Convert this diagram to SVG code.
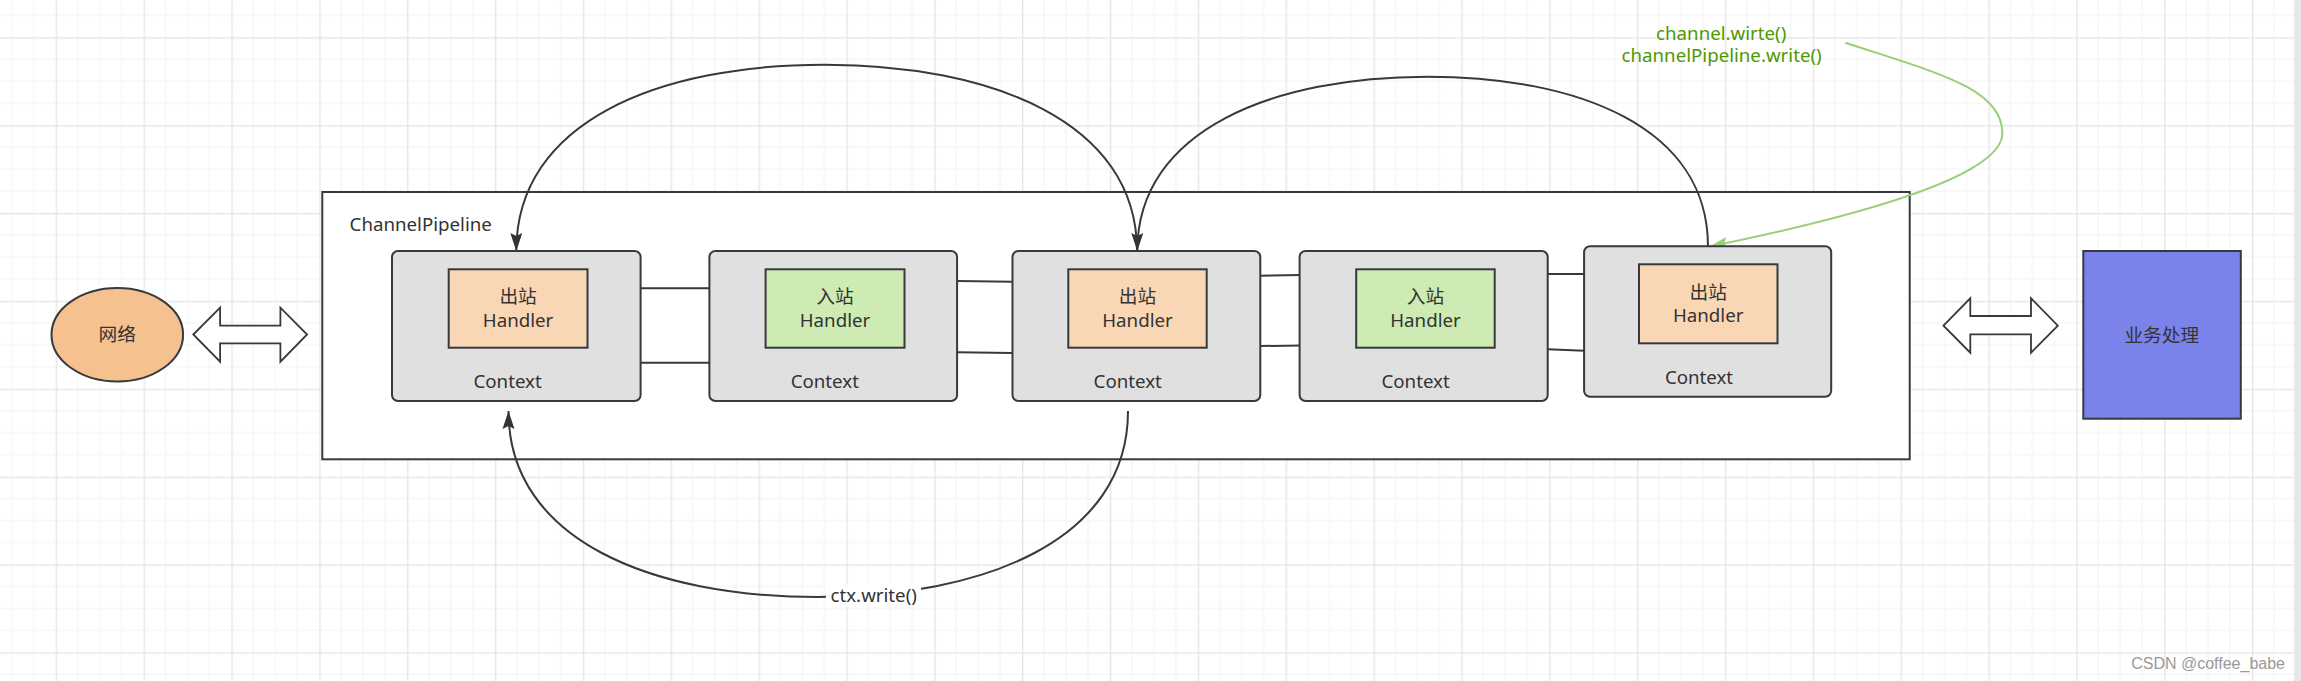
<svg xmlns="http://www.w3.org/2000/svg" width="2301" height="681" viewBox="0 0 2301 681">
<defs>
<style>
.t{font-family:"Noto Sans","Noto Sans CJK SC",sans-serif;font-size:18.7px;fill:#333;text-anchor:middle}
.ctx{fill:#e0e0e0;stroke:#36393d;stroke-width:2}
.out{fill:#fad7b4;stroke:#36393d;stroke-width:2}
.in{fill:#cdebb3;stroke:#36393d;stroke-width:2}
.ln{fill:none;stroke:#36393d;stroke-width:2}
.dbl{fill:#fff;stroke:#36393d;stroke-width:1.8;stroke-linejoin:miter}
.g{fill:#4d9900}
</style>
<pattern id="grid" patternUnits="userSpaceOnUse" x="55.7" y="37.3" width="87.85" height="87.85">
<rect x="21.46" y="0" width="1" height="87.85" fill="#f2f2f2"/>
<rect x="43.43" y="0" width="1" height="87.85" fill="#f2f2f2"/>
<rect x="65.39" y="0" width="1" height="87.85" fill="#f2f2f2"/>
<rect x="0" y="21.46" width="87.85" height="1" fill="#f2f2f2"/>
<rect x="0" y="43.43" width="87.85" height="1" fill="#f2f2f2"/>
<rect x="0" y="65.39" width="87.85" height="1" fill="#f2f2f2"/>
<rect x="0" y="0" width="1.4" height="87.85" fill="#e6e6e6"/>
<rect x="0" y="0" width="87.85" height="1.4" fill="#e6e6e6"/>
</pattern>
<marker id="ab" markerUnits="userSpaceOnUse" viewBox="0 0 20 14" markerWidth="20" markerHeight="14" refX="18" refY="7" orient="auto">
<path d="M0,1 L18,7 L0,13 L3,7 z" fill="#333"/>
</marker>
<marker id="ag" markerUnits="userSpaceOnUse" viewBox="0 0 20 14" markerWidth="20" markerHeight="14" refX="18" refY="7" orient="auto">
<path d="M0,1 L18,7 L0,13 L3,7 z" fill="#97d077"/>
</marker>
</defs>
<rect width="2301" height="681" fill="#fff"/>
<rect width="2301" height="681" fill="url(#grid)"/>
<rect x="2294" y="0" width="7" height="681" fill="#e8e8e8"/>

<g id="pipeline">
<rect x="322.3" y="192" width="1587.4" height="267.3" fill="#fff" stroke="#36393d" stroke-width="2"/>
<text x="349.6" y="230.7" class="t" style="text-anchor:start">ChannelPipeline</text>
</g>

<g id="network">
<ellipse cx="117.3" cy="334.7" rx="65.8" ry="46.8" fill="#f5c18e" stroke="#36393d" stroke-width="2"/>
<text x="117.3" y="341" class="t">网络</text>
</g>

<g id="arrow-left">
<polygon class="dbl" points="193.3,334.5 220.1,307.7 220.1,325.7 280.4,325.7 280.4,307.7 307.1,334.5 280.4,361.7 280.4,343.3 220.1,343.3 220.1,361.7"/>
</g>

<g id="arrow-right">
<polygon class="dbl" points="1943.5,325.7 1970.3,298.3 1970.3,316 2031,316 2031,298.3 2057.8,325.7 2031,352.7 2031,334.3 1970.3,334.3 1970.3,352.7"/>
</g>

<g id="business">
<rect x="2083.3" y="251" width="157.5" height="167.7" fill="#7b83eb" stroke="#36393d" stroke-width="2"/>
<text x="2161.8" y="342" class="t">业务处理</text>
</g>

<g id="connectors">
<line class="ln" x1="640.6" y1="288.3" x2="709.4" y2="288.3"/>
<line class="ln" x1="640.6" y1="362.7" x2="709.4" y2="362.7"/>
<line class="ln" x1="957.1" y1="281" x2="1012.5" y2="281.7"/>
<line class="ln" x1="957.1" y1="352.3" x2="1012.5" y2="353"/>
<line class="ln" x1="1260.3" y1="275.7" x2="1301" y2="275"/>
<line class="ln" x1="1260.3" y1="346" x2="1301" y2="345.5"/>
<line class="ln" x1="1547.7" y1="274" x2="1590.5" y2="274"/>
<line class="ln" x1="1547.7" y1="349.3" x2="1584.1" y2="350.7"/>
<path class="ln" d="M1137,251 C1137,121 990,64.7 825,64.7 C660,64.7 516.3,121 516.3,251" marker-end="url(#ab)"/>
<path class="ln" d="M1708,246.7 C1708,126.7 1577.5,76.7 1427.5,76.7 C1275.5,76.7 1137.3,129 1137.3,251" marker-end="url(#ab)"/>
<path class="ln" d="M1128,411 C1128,541 983,597 818,597 C653,597 508.5,541 508.5,411" marker-end="url(#ab)"/>
<path d="M1845.5,42.7 C1935.5,72.7 2002.4,88 2002.4,133.3 C2002.4,180 1830,222 1709.7,246.5" fill="none" stroke="#97d077" stroke-width="2" marker-end="url(#ag)"/>
<rect x="826" y="584" width="95" height="23" fill="#fff"/>
<text x="873.7" y="601.7" class="t">ctx.write()</text>
<text x="1721.2" y="39.5" class="t g">channel.wirte()</text>
<text x="1721.6" y="61.7" class="t g">channelPipeline.write()</text>
</g>

<g id="ctx1">
<rect class="ctx" x="392" y="251" width="248.6" height="150" rx="6"/>
<rect class="out" x="448.7" y="269.3" width="138.8" height="78.4"/>
<text x="518.1" y="303" class="t">出站</text>
<text x="518.1" y="326.7" class="t">Handler</text>
<text x="507.6" y="388.3" class="t">Context</text>
</g>

<g id="ctx2">
<rect class="ctx" x="709.4" y="251" width="247.7" height="150" rx="6"/>
<rect class="in" x="765.6" y="269.3" width="138.9" height="78.4"/>
<text x="835" y="303" class="t">入站</text>
<text x="835" y="326.7" class="t">Handler</text>
<text x="824.8" y="388.3" class="t">Context</text>
</g>

<g id="ctx3">
<rect class="ctx" x="1012.5" y="251" width="247.8" height="150" rx="6"/>
<rect class="out" x="1068.3" y="269.3" width="138.4" height="78.4"/>
<text x="1137.5" y="303" class="t">出站</text>
<text x="1137.5" y="326.7" class="t">Handler</text>
<text x="1127.7" y="388.3" class="t">Context</text>
</g>

<g id="ctx4">
<rect class="ctx" x="1299.6" y="251" width="248.1" height="150" rx="6"/>
<rect class="in" x="1356.2" y="269.3" width="138.5" height="78.4"/>
<text x="1425.5" y="303" class="t">入站</text>
<text x="1425.5" y="326.7" class="t">Handler</text>
<text x="1415.6" y="388.3" class="t">Context</text>
</g>

<g id="ctx5">
<rect class="ctx" x="1584.1" y="246.3" width="247.1" height="150.4" rx="6"/>
<rect class="out" x="1639" y="264.3" width="138.5" height="79"/>
<text x="1708.2" y="298.5" class="t">出站</text>
<text x="1708.2" y="322" class="t">Handler</text>
<text x="1699" y="384" class="t">Context</text>
</g>

<text x="2285" y="669.3" style="font-family:'Liberation Sans',Arial,sans-serif;font-size:16px;fill:#999;text-anchor:end">CSDN @coffee_babe</text>
</svg>
